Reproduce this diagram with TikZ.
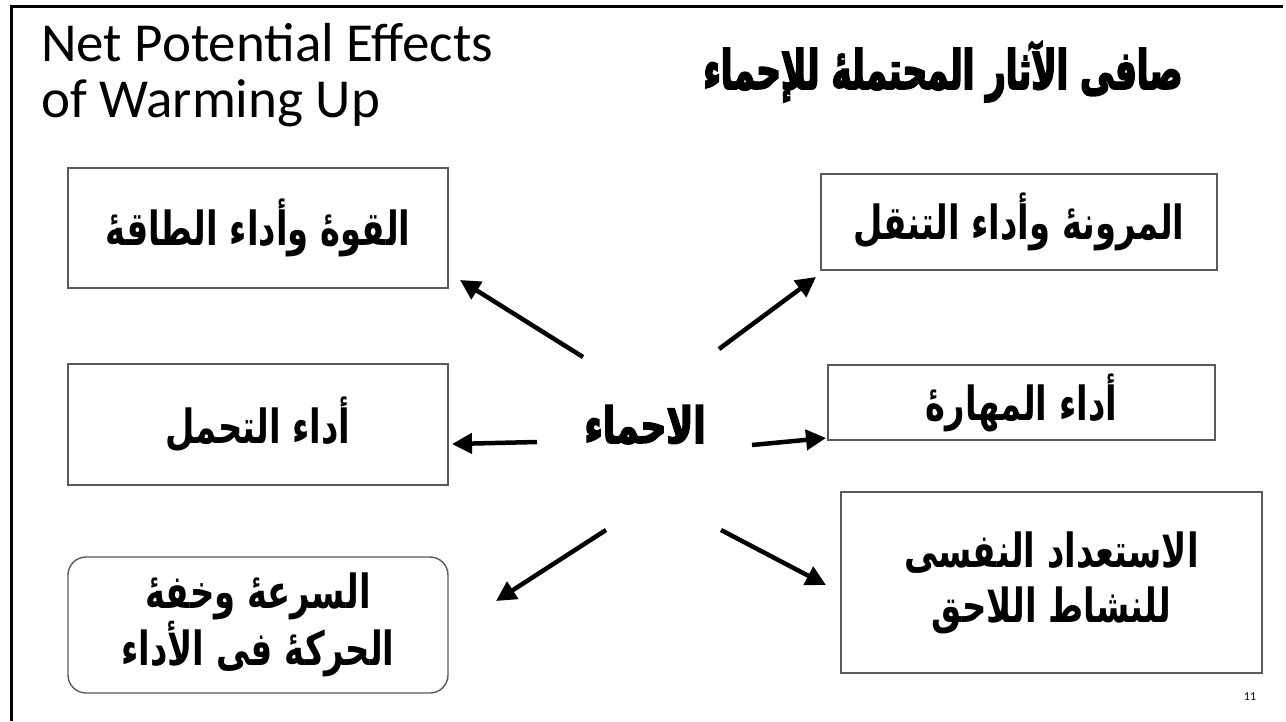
\documentclass[tikz,border=0pt]{standalone}
\usepackage{fontspec}
\usetikzlibrary{arrows.meta}
\setmainfont{Carlito}
% condensed, tall Arabic faces
\newfontfamily\arabicfont[Script=Arabic,FakeStretch=0.72]{DejaVu Sans}
\newfontfamily\arabicheavy[Script=Arabic,UprightFont=* Bold,FakeBold=3,FakeStretch=0.72]{DejaVu Sans}
\newfontfamily\arabictitle[Script=Arabic,UprightFont=* Bold,FakeBold=3,FakeStretch=0.63]{DejaVu Sans}
\TeXXeTstate=1
\newcommand{\ar}[1]{\beginR #1\endR}
\tikzset{
  effectbox/.style={draw=black!65, line width=1.4pt, minimum width=#1, inner sep=0pt,
    font=\arabicfont\bfseries\fontsize{47}{55}\selectfont, align=center},
  effectbox/.default=380pt,
  bigarrow/.style={line width=4.5pt, -{Triangle[length=20pt,width=20pt]}}
}
\begin{document}
\begin{tikzpicture}[x=1pt,y=-1pt]
  \useasboundingbox (0,0) rectangle (1286,721);
  % slide frame
  \draw[line width=3pt] (11,721) -- (11,6) -- (1283,6);

  % headings
  \node[anchor=north west, align=left, inner sep=0pt,
        font=\fontsize{55}{56}\selectfont] (entitle) at (41,23)
        {Net Potential Effects\\of Warming Up};
  \node[font=\arabictitle\fontsize{54}{58}\selectfont, inner sep=0pt, anchor=base] (artitle) at (943,89)
        {\ar{صافى الآثار المحتملهٔ للإحماء}};

  % centre
  \node[font=\arabicheavy\fontsize{50}{52}\selectfont, inner sep=0pt, anchor=base] (centre) at (645,443)
        {\ar{الاحماء}};

  % effect boxes
  \node[effectbox, minimum height=120pt] (strength) at (258,228)
        {\ar{القوهٔ وأداء الطاقهٔ}};
  \node[effectbox=396pt, minimum height=96pt] (flex) at (1019,222)
        {\ar{المرونهٔ وأداء التنقل}};
  \node[effectbox, minimum height=121pt] (endur) at (258,424.5)
        {\ar{أداء التحمل}};
  \node[effectbox=387pt, minimum height=75pt] (skill) at (1021.5,402.5)
        {\ar{أداء المهارهٔ}};
  \node[effectbox, minimum height=136pt, rounded corners=18pt] (speed) at (258,625)
        {\ar{السرعهٔ وخفهٔ}\\\ar{الحركهٔ فى الأداء}};
  \node[effectbox=421pt, minimum height=181pt] (psych) at (1051.5,582.5)
        {\ar{الاستعداد النفسى}\\\ar{للنشاط اللاحق}};

  % page number
  \node[font=\fontsize{12}{14}\selectfont, inner sep=0pt] (pageno) at (1250,697) {11};

  % arrow ends
  \coordinate (tTL) at (583,357);  \coordinate (hTL) at (460,280);
  \coordinate (tTR) at (719,349);  \coordinate (hTR) at (816,277);
  \coordinate (tL)  at (537,442);  \coordinate (hL)  at (452,444);
  \coordinate (tR)  at (752,445);  \coordinate (hR)  at (826,438);
  \coordinate (tBL) at (606,530);  \coordinate (hBL) at (496,601);
  \coordinate (tBR) at (721,530);  \coordinate (hBR) at (826,585);

  \draw[bigarrow] (tTL) -- (hTL);
  \draw[bigarrow] (tTR) -- (hTR);
  \draw[bigarrow] (tL) -- (hL);
  \draw[bigarrow] (tR) -- (hR);
  \draw[bigarrow] (tBL) -- (hBL);
  \draw[bigarrow] (tBR) -- (hBR);
\end{tikzpicture}
\end{document}
